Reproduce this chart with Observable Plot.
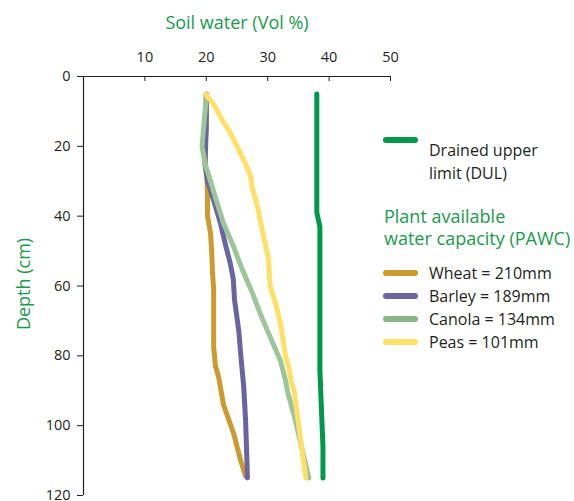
<!DOCTYPE html>
<html><head><meta charset="utf-8">
<script src="https://cdn.jsdelivr.net/npm/d3@7"></script>
<script src="https://cdn.jsdelivr.net/npm/@observablehq/plot@0.6"></script>
<style>
body{margin:0;background:#fff;font-family:"Open Sans",sans-serif;color:#231f20;}
#wrap{position:relative;width:574px;height:501px;overflow:hidden;}
#wrap svg{position:absolute;left:0;top:0;}
.row{position:absolute;left:383px;display:flex;align-items:center;white-space:nowrap;font-size:16px;line-height:23px;}
.sw{width:35px;height:6px;border-radius:3px;margin-right:11px;flex:none;}
.txt{position:absolute;left:429px;font-size:16px;line-height:20px;white-space:nowrap;}
.head{position:absolute;left:384px;font-size:18px;line-height:20px;color:#1a9a4b;white-space:nowrap;}
</style></head><body><div id="wrap"></div>
<script>
const xTicks = [10, 20, 30, 40, 50];
const yTicks = [0, 20, 40, 60, 80, 100, 120];

const dulWater = [38, 38, 38.5, 38.5, 38.7, 39, 39];
const dulDepth = [5, 39, 43, 84, 93, 106, 115];

const wheatWater = [20, 20, 19.8, 19.8, 20.1, 20.2, 20.2, 20.7, 20.9, 21.0, 21.2, 21.2, 21.5, 22.0, 22.6, 22.8, 24.5, 25.0, 25.6, 26.4];
const wheatDepth = [5, 14, 20, 25, 29, 35, 40, 45, 51, 56, 61, 77.5, 83, 86, 92, 94, 102.5, 106, 110, 114.5];

const barleyWater = [20, 20, 19.8, 20.2, 21.2, 22.3, 23.1, 23.9, 24.4, 24.6, 25.3, 25.6, 26.1, 26.4, 26.6, 26.7];
const barleyDepth = [5, 14, 25, 30, 35.5, 42, 48, 53.5, 58, 64, 73, 79.5, 89, 98.5, 109, 115];

const canolaWater = [20, 19.8, 19.6, 19.3, 19.8, 20.7, 21.2, 22.8, 24.5, 25.8, 27.5, 28.8, 30.5, 32.1, 32.9, 33.2, 34.5, 36.7];
const canolaDepth = [5, 10, 14, 20, 25, 30, 33, 42, 49, 55, 62, 68, 75, 81.5, 87, 90, 98.5, 115];

const peasWater = [19.9, 21.2, 22.6, 23.7, 25.0, 26.4, 27.2, 27.5, 28.3, 29.3, 30.1, 30.4, 31.3, 32.1, 32.9, 33.4, 33.9, 34.3, 36.2];
const peasDepth = [5, 8, 12.5, 15.5, 20, 25, 28.5, 32, 37, 45.5, 52, 60, 65, 71, 80, 83, 88, 90, 115];

const seriesNames = ["DUL", "Wheat", "Barley", "Canola", "Peas"];
const seriesColors = ["#00984a", "#cc9a2e", "#6a64a2", "#9cc69a", "#ffe066"];
const legendColors = ["#00984a", "#cc9a2e", "#6a64a2", "#86b784", "#ffe066"];
const dulLabel = ["Drained upper", "limit (DUL)"];
const pawcTitle = ["Plant available", "water capacity (PAWC)"];
const pawcLabels = ["Wheat = 210mm", "Barley = 189mm", "Canola = 134mm", "Peas = 101mm"];

const seriesData = [
  [dulWater, dulDepth], [wheatWater, wheatDepth], [barleyWater, barleyDepth],
  [canolaWater, canolaDepth], [peasWater, peasDepth]
];
const table = [];
seriesData.forEach(([w, d], i) => w.forEach((v, j) => table.push({series: seriesNames[i], water: v, depth: d[j]})));

const green = "#1a9a4b";
const ink = "#231f20";
const W = 574, H = 501, mL = 83, mT = 76, mR = 184, mB = 6;

const chart = Plot.plot({
  width: W, height: H,
  marginLeft: mL, marginTop: mT, marginRight: mR, marginBottom: mB,
  style: {fontFamily: "Open Sans, sans-serif", color: ink, background: "transparent", overflow: "visible"},
  x: {domain: [0, 50]},
  y: {domain: [0, 120], reverse: true},
  color: {domain: seriesNames, range: seriesColors},
  marks: [
    Plot.line(table, {x: "water", y: "depth", z: "series", stroke: "series", strokeWidth: 5, strokeLinecap: "round", strokeLinejoin: "round"}),
    Plot.ruleY([0], {stroke: ink, strokeWidth: 1.2}),
    Plot.ruleX([0], {stroke: ink, strokeWidth: 1.2}),
    Plot.tickX(xTicks, {x: d => d, stroke: ink, strokeWidth: 1, insetBottom: H - mT - mB - 5}),
    Plot.axisX(xTicks, {anchor: "top", tickSize: 0, tickPadding: 15, fontSize: 14.5, label: null}),
    Plot.axisY(yTicks, {anchor: "left", tickSize: 6, tickPadding: 7, fontSize: 14.5, label: null}),
    Plot.text(["Soil water (Vol %)"], {frameAnchor: "top", textAnchor: "middle", lineAnchor: "middle", dy: -53, fill: green, fontSize: 18}),
    Plot.text(["Depth (cm)"], {frameAnchor: "left", textAnchor: "middle", lineAnchor: "middle", dx: -59, dy: -2, rotate: -90, fill: green, fontSize: 18})
  ]
});
const wrap = document.getElementById("wrap");
wrap.appendChild(chart);

function add(html, cls, top) {
  const d = document.createElement("div");
  d.className = cls; d.style.top = top + "px"; d.innerHTML = html; wrap.appendChild(d); return d;
}
// DUL legend
add(`<span class="sw" style="background:${legendColors[0]}"></span>`, "row", 137);
dulLabel.forEach((t, i) => add(t, "txt", 140 + i * 23));
pawcTitle.forEach((t, i) => add(t, "head", 206 + i * 21.5));
pawcLabels.forEach((t, i) => {
  add(`<span class="sw" style="background:${legendColors[i + 1]}"></span><span>${t}</span>`, "row", 261.5 + i * 23);
});
</script></body></html>
